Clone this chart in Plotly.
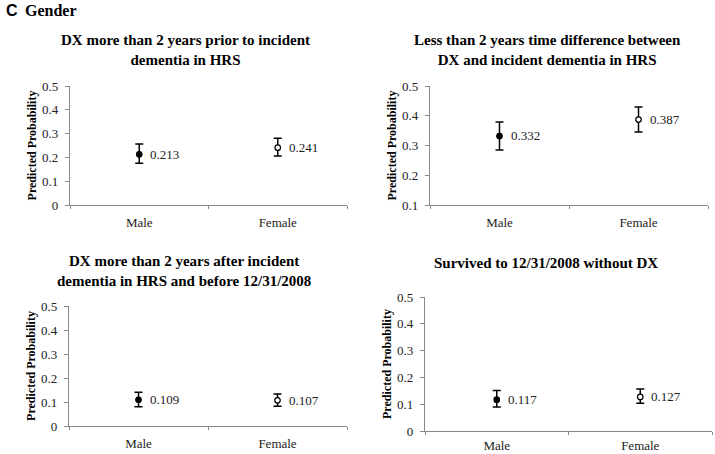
import plotly.graph_objects as go

categories = ["Male", "Female"]

titles = [
    "DX more than 2 years prior to incident<br>dementia in HRS",
    "Less than 2 years time difference between<br>DX and incident dementia in HRS",
    "DX more than 2 years after incident<br>dementia in HRS and before 12/31/2008",
    "Survived to 12/31/2008 without DX",
]
values = [[0.213, 0.241], [0.332, 0.387], [0.109, 0.107], [0.117, 0.127]]
upper = [[0.256, 0.280], [0.379, 0.429], [0.141, 0.133], [0.151, 0.157]]
lower = [[0.175, 0.206], [0.285, 0.345], [0.080, 0.082], [0.090, 0.104]]
y_ranges = [[0, 0.5], [0.1, 0.5], [0, 0.5], [0, 0.5]]
y_ticks = [[0, 0.1, 0.2, 0.3, 0.4, 0.5], [0.1, 0.2, 0.3, 0.4, 0.5],
           [0, 0.1, 0.2, 0.3, 0.4, 0.5], [0, 0.1, 0.2, 0.3, 0.4, 0.5]]
y_ticklabels = [["0", "0.1", "0.2", "0.3", "0.4", "0.5"], ["0.1", "0.2", "0.3", "0.4", "0.5"],
                ["0", "0.1", "0.2", "0.3", "0.4", "0.5"], ["0", "0.1", "0.2", "0.3", "0.4", "0.5"]]

W, H = 715, 454
# plot areas in pixels: (x0, x1, ytop, ybottom)
areas = [(70, 347, 86, 205), (430, 708, 86, 205), (69, 347, 306, 426), (425, 712, 297, 431)]
title_pos = [(185, 50), (547, 50), (184, 271), (546, 263)]
x_standoff = [5, 5, 5, 2]

SERIF = "Liberation Serif, Times New Roman, serif"
fig = go.Figure()
for i in range(4):
    xa = "x" if i == 0 else f"x{i+1}"
    ya = "y" if i == 0 else f"y{i+1}"
    v = values[i]
    ep = [u - m for u, m in zip(upper[i], v)]
    em = [m - l for l, m in zip(lower[i], v)]
    for j, cat in enumerate(categories):
        fig.add_trace(go.Scatter(
            x=[cat], y=[v[j]], mode="markers", xaxis=xa, yaxis=ya, showlegend=False,
            marker=dict(size=5.5, symbol="circle", color="black" if j == 0 else "white",
                        line=dict(color="black", width=1.2)),
            error_y=dict(type="data", symmetric=False, array=[ep[j]], arrayminus=[em[j]],
                         color="black", thickness=1.5, width=4),
        ))
        fig.add_annotation(x=cat, y=v[j], xref=xa, yref=ya, text=f"{v[j]:.3f}",
                           xanchor="left", yanchor="middle", xshift=9, showarrow=False,
                           font=dict(family=SERIF, size=13, color="#222"))
    x0, x1, yt, yb = areas[i]
    sfx = "" if i == 0 else str(i + 1)
    fig.layout["xaxis" + sfx] = dict(
        domain=[x0 / W, x1 / W], anchor=ya, type="category", categoryorder="array",
        categoryarray=categories, range=[-0.5, 1.5], tickson="boundaries",
        ticks="outside", ticklen=3, tickcolor="#888", showline=True, linecolor="#888",
        linewidth=1.2, showgrid=False, zeroline=False, automargin=False,
        tickfont=dict(family=SERIF, size=13, color="#222"), ticklabelstandoff=x_standoff[i])
    fig.layout["yaxis" + sfx] = dict(
        domain=[1 - yb / H, 1 - yt / H], anchor=xa, range=y_ranges[i],
        tickvals=y_ticks[i], ticktext=y_ticklabels[i], ticks="outside", ticklen=4,
        tickcolor="#888", showline=True, linecolor="#888", linewidth=1.2,
        showgrid=False, zeroline=False, automargin=False, ticklabelstandoff=4,
        tickfont=dict(family=SERIF, size=13, color="#222"),
        title=dict(text="<b>Predicted Probability</b>", standoff=2,
                   font=dict(family=SERIF, size=12, color="black")))
    tx, ty = title_pos[i]
    fig.add_annotation(x=tx / W, y=1 - ty / H, xref="paper", yref="paper",
                       text=f"<b>{titles[i]}</b>", showarrow=False, xanchor="center",
                       yanchor="middle", align="center",
                       font=dict(family=SERIF, size=15, color="black"))

fig.add_annotation(x=4 / W, y=1 - 11 / H, xref="paper", yref="paper", text="<b>C</b>",
                   showarrow=False, xanchor="left", yanchor="middle",
                   font=dict(family="Liberation Sans, Arial, sans-serif", size=16, color="black"))
fig.add_annotation(x=23 / W, y=1 - 11 / H, xref="paper", yref="paper", text="<b>Gender</b>",
                   showarrow=False, xanchor="left", yanchor="middle",
                   font=dict(family=SERIF, size=16, color="black"))

fig.update_layout(width=W, height=H, margin=dict(l=0, r=0, t=0, b=0),
                  paper_bgcolor="white", plot_bgcolor="white")
fig.write_html("out.html", config={"displayModeBar": False},
               post_script="document.body.style.margin='0';document.body.style.overflow='hidden';")
